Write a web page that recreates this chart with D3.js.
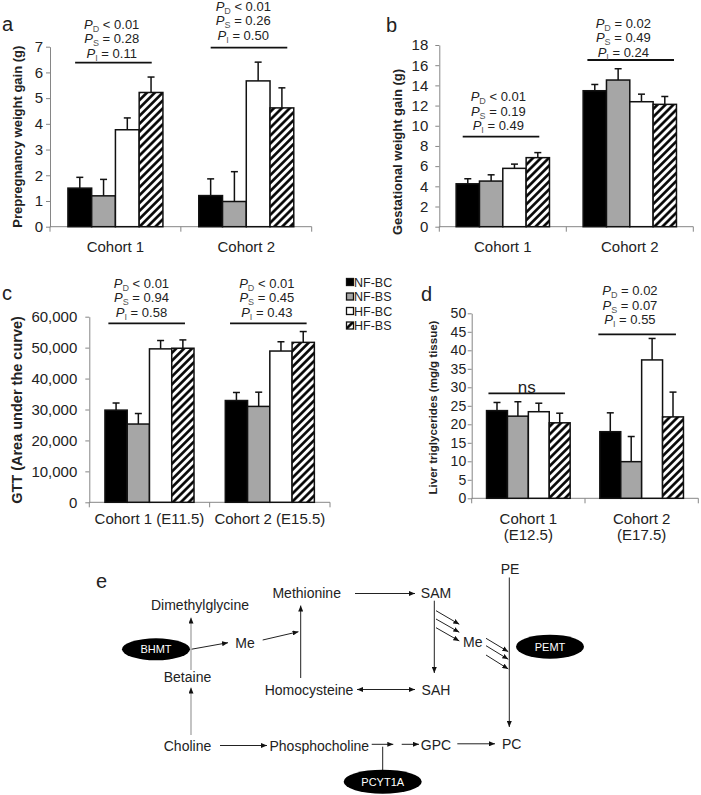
<!DOCTYPE html>
<html><head><meta charset="utf-8">
<script src="https://cdn.jsdelivr.net/npm/d3@7"></script>
<style>
body{margin:0;background:#fff}
svg{display:block}
text{font-family:Arial,"Liberation Sans",Helvetica,sans-serif;fill:#222}
</style>
</head><body>
<svg id="fig" width="701" height="795"></svg>
<script>
// ---------- DATA ----------
const groups = ["NF-BC", "NF-BS", "HF-BC", "HF-BS"];

const catsA = [["Cohort 1"], ["Cohort 2"]];
const meansA = [[1.50, 1.20, 3.77, 5.22], [1.21, 0.98, 5.67, 4.62]];
const errsA  = [[0.42, 0.64, 0.46, 0.60], [0.65, 1.16, 0.73, 0.78]];
const ticksA = [0, 1, 2, 3, 4, 5, 6, 7];
const statsA = [
  [["D", "< 0.01"], ["S", "= 0.28"], ["I", "= 0.11"]],
  [["D", "< 0.01"], ["S", "= 0.26"], ["I", "= 0.50"]]
];

const catsB = [["Cohort 1"], ["Cohort 2"]];
const meansB = [[4.25, 4.52, 5.78, 6.84], [13.47, 14.53, 12.38, 12.12]];
const errsB  = [[0.50, 0.62, 0.42, 0.50], [0.62, 1.12, 0.75, 0.78]];
const ticksB = [0, 2, 4, 6, 8, 10, 12, 14, 16, 18];
const statsB = [
  [["D", "< 0.01"], ["S", "= 0.19"], ["I", "= 0.49"]],
  [["D", "= 0.02"], ["S", "= 0.49"], ["I", "= 0.24"]]
];

const catsC = [["Cohort 1 (E11.5)"], ["Cohort 2 (E15.5)"]];
const meansC = [[29800, 25300, 49600, 49800], [32900, 31000, 48900, 51700]];
const errsC  = [[2300, 3400, 2700, 2700], [2600, 4600, 3000, 3500]];
const ticksC = [0, 10000, 20000, 30000, 40000, 50000, 60000];
const statsC = [
  [["D", "< 0.01"], ["S", "= 0.94"], ["I", "= 0.58"]],
  [["D", "< 0.01"], ["S", "= 0.45"], ["I", "= 0.43"]]
];

const catsD = [["Cohort 1", "(E12.5)"], ["Cohort 2", "(E17.5)"]];
const meansD = [[23.7, 22.2, 23.4, 20.4], [18.0, 9.9, 37.4, 22.0]];
const errsD  = [[2.2, 3.9, 2.3, 2.6], [5.1, 6.8, 5.8, 6.7]];
const ticksD = [0, 5, 10, 15, 20, 25, 30, 35, 40, 45, 50];
const statsD = [
  "ns",
  [["D", "= 0.02"], ["S", "= 0.07"], ["I", "= 0.55"]]
];

// ---------- STYLE / LAYOUT ----------
const svg = d3.select("#fig");
const defs = svg.append("defs");
const pat = defs.append("pattern").attr("id", "hatch")
  .attr("patternUnits", "userSpaceOnUse").attr("width", 5.6).attr("height", 5.6)
  .attr("patternTransform", "rotate(45)");
pat.append("rect").attr("width", 5.6).attr("height", 5.6).attr("fill", "#fff");
pat.append("line").attr("x1", 1.4).attr("y1", 0).attr("x2", 1.4).attr("y2", 5.6)
  .attr("stroke", "#000").attr("stroke-width", 2.6);

const fills = {"NF-BC": "#000", "NF-BS": "#a6a6a6", "HF-BC": "#fff", "HF-BS": "url(#hatch)"};
const axisColor = "#868686";

const panels = [
  {letter: "a", lx: 2, ly: 31, cats: catsA, means: meansA, errs: errsA, ticks: ticksA, fmt: d3.format("d"),
   x0: 50, x1: 311.7, yb: 226.7, yt: 46.7, frac: 0.726, pad: 3, tickFont: 15,
   title: "Prepregnancy weight gain (g)", tx: 17.5, ty: 136.7, tfont: 13, catY: [251.5],
   stats: statsA, ann: [{top: 24, line: 62.7, tdx: -3.7, ldx: -2, half: 38.3}, {top: 6, line: 47.7, tdx: -3, ldx: 2.7, half: 38.3}]},
  {letter: "b", lx: 386, ly: 31.5, cats: catsB, means: meansB, errs: errsB, ticks: ticksB, fmt: d3.format("d"),
   x0: 439.3, x1: 693.3, yb: 226.7, yt: 45, frac: 0.735, pad: 7, tickFont: 15,
   title: "Gestational weight gain (g)", tx: 397, ty: 152, tfont: 13, catY: [251.5],
   stats: statsB, ann: [{top: 96.7, line: 136.7, tdx: -4.5, ldx: -1.8, half: 38.3}, {top: 23.3, line: 60, tdx: -6.5, ldx: 0.9, half: 43.3}]},
  {letter: "c", lx: 2, ly: 300, cats: catsC, means: meansC, errs: errsC, ticks: ticksC, fmt: d3.format(","),
   x0: 89.3, x1: 330, yb: 502.3, yt: 316.7, frac: 0.74, pad: 8, tickFont: 15,
   title: "GTT (Area under the curve)", tx: 17, ty: 410, tfont: 14.5, catY: [523.5],
   stats: statsC, ann: [{top: 283.3, line: 323.3, tdx: -8, ldx: -2.8, half: 38.3}, {top: 283.3, line: 323.3, tdx: -3, ldx: -1.5, half: 38.3}]},
  {letter: "d", lx: 421, ly: 301, cats: catsD, means: meansD, errs: errsD, ticks: ticksD, fmt: d3.format("d"),
   x0: 471.7, x1: 698.3, yb: 498.3, yt: 313.3, frac: 0.738, pad: 1.5, tickFont: 14,
   title: "Liver triglycerides (mg/g tissue)", tx: 433, ty: 407.5, tfont: 11.5, catY: [524, 540],
   stats: statsD, ann: [{top: 387.3, line: 393.3, tdx: -1.6, ldx: -1.6, half: 38.3}, {top: 290.7, line: 334.3, tdx: -11.7, ldx: -4.5, half: 38.8}]}
];

function drawPanel(p) {
  const g = svg.append("g");
  const maxV = p.ticks[p.ticks.length - 1];
  const y = d3.scaleLinear().domain([0, maxV]).range([p.yb, p.yt]);
  const x = d3.scaleBand().domain(d3.range(p.cats.length)).range([p.x0, p.x1]).padding(0);
  const bw = x.bandwidth();
  const inner = d3.scaleBand().domain(groups).range([bw * (1 - p.frac) / 2, bw * (1 + p.frac) / 2]).padding(0);

  // y axis
  const ay = g.append("g").attr("transform", `translate(${p.x0},0)`)
    .call(d3.axisLeft(y).tickValues(p.ticks).tickFormat(p.fmt).tickSize(4).tickSizeOuter(0).tickPadding(p.pad));
  ay.select(".domain").attr("stroke", axisColor);
  ay.selectAll(".tick line").attr("stroke", axisColor);
  ay.selectAll(".tick text").attr("font-size", p.tickFont).attr("font-family", "Arial, 'Liberation Sans', sans-serif").attr("fill", "#222");

  // x axis line + ticks at band boundaries
  g.append("line").attr("x1", p.x0).attr("x2", p.x1).attr("y1", p.yb).attr("y2", p.yb).attr("stroke", axisColor);
  const bounds = x.domain().map(d => x(d)).concat([x(x.domain()[x.domain().length - 1]) + bw]);
  g.selectAll(".xt").data(bounds).enter().append("line")
    .attr("x1", d => d).attr("x2", d => d).attr("y1", p.yb).attr("y2", p.yb + 5).attr("stroke", axisColor);

  // category labels
  p.cats.forEach((lines, i) => {
    lines.forEach((t, j) => {
      g.append("text").attr("x", x(i) + bw / 2).attr("y", p.catY[j]).attr("text-anchor", "middle")
        .attr("font-size", 15).text(t);
    });
  });

  // bars
  p.means.forEach((row, i) => {
    row.forEach((v, k) => {
      const gname = groups[k];
      const bx = x(i) + inner(gname);
      const bwid = inner.bandwidth();
      const e = p.errs[i][k];
      g.append("line").attr("x1", bx + bwid / 2).attr("x2", bx + bwid / 2)
        .attr("y1", y(v)).attr("y2", y(v + e)).attr("stroke", "#111").attr("stroke-width", 1.5);
      g.append("line").attr("x1", bx + bwid / 2 - 3.5).attr("x2", bx + bwid / 2 + 3.5)
        .attr("y1", y(v + e)).attr("y2", y(v + e)).attr("stroke", "#111").attr("stroke-width", 1.5);
      g.append("rect").attr("x", bx).attr("y", y(v)).attr("width", bwid).attr("height", y(0) - y(v))
        .attr("fill", fills[gname]).attr("stroke", "#111").attr("stroke-width", 1.5);
    });
  });

  // annotations
  p.stats.forEach((s, i) => {
    const a = p.ann[i];
    const cx = x(i) + bw / 2;
    g.append("line").attr("x1", cx + a.ldx - a.half).attr("x2", cx + a.ldx + a.half)
      .attr("y1", a.line).attr("y2", a.line).attr("stroke", "#111").attr("stroke-width", 1.8);
    if (typeof s === "string") {
      g.append("text").attr("x", cx + a.tdx).attr("y", a.top + 6).attr("text-anchor", "middle")
        .attr("font-size", 17).text(s);
    } else {
      s.forEach((r, j) => {
        const t = g.append("text").attr("x", cx + a.tdx).attr("y", a.top + j * 14.5 + 4.6)
          .attr("text-anchor", "middle").attr("font-size", 13);
        t.append("tspan").attr("font-style", "italic").text("P");
        t.append("tspan").attr("font-size", 9).attr("dy", 3).attr("fill", "#555").text(r[0]);
        t.append("tspan").attr("dy", -3).text("\u00a0" + r[1]);
      });
    }
  });

  // title
  g.append("text").attr("transform", `translate(${p.tx},${p.ty}) rotate(-90)`)
    .attr("text-anchor", "middle").attr("dominant-baseline", "central")
    .attr("font-weight", "bold").attr("font-size", p.tfont).text(p.title);
  // letter
  g.append("text").attr("x", p.lx).attr("y", p.ly).attr("font-size", 20).text(p.letter);
}
panels.forEach(drawPanel);

// legend
const leg = svg.append("g");
groups.forEach((gname, i) => {
  const cy = 282 + i * 14.5;
  leg.append("rect").attr("x", 346.5).attr("y", cy - 3.5).attr("width", 7).attr("height", 7)
    .attr("fill", fills[gname]).attr("stroke", "#111").attr("stroke-width", 1.3);
  leg.append("text").attr("x", 354).attr("y", cy + 4.5).attr("font-size", 12.5).text(gname);
});

// ---------- panel e : pathway diagram ----------
const eNodes = [
  {t: "Dimethylglycine", x: 200, y: 605},
  {t: "Methionine", x: 306.7, y: 593.3},
  {t: "SAM", x: 436, y: 593.3},
  {t: "PE", x: 510, y: 568.5},
  {t: "Me", x: 245, y: 643.3},
  {t: "Me", x: 472.7, y: 641.7},
  {t: "Betaine", x: 187.5, y: 676.7},
  {t: "Homocysteine", x: 309, y: 690},
  {t: "SAH", x: 436, y: 690},
  {t: "Choline", x: 187.5, y: 745.7},
  {t: "Phosphocholine", x: 319.3, y: 745.7},
  {t: "GPC", x: 436, y: 744.5},
  {t: "PC", x: 511.7, y: 744}
];
const eEnzymes = [
  {t: "BHMT", x: 156, y: 649.3, rx: 34, ry: 11},
  {t: "PCYT1A", x: 382.7, y: 781.7, rx: 39, ry: 12},
  {t: "PEMT", x: 550, y: 646.7, rx: 34, ry: 12}
];
// [x1,y1,x2,y2,headEnd,headStart,gray]
const eLinks = [
  [355, 593.5, 415, 593.5, 1, 0, 0],
  [357, 689.5, 415, 689.5, 1, 1, 0],
  [300.7, 678, 300.7, 605.5, 1, 0, 0],
  [191, 649.3, 228, 642.7, 1, 0, 0],
  [262.7, 640, 298.5, 631.7, 1, 0, 0],
  [191, 670, 191, 617.5, 1, 0, 1],
  [191, 735, 191, 687.5, 1, 0, 1],
  [220, 745.5, 267, 745.5, 1, 0, 0],
  [371.7, 744.3, 393.3, 744.3, 1, 0, 0],
  [401.7, 744.3, 419, 744.3, 1, 0, 0],
  [382.7, 746.7, 382.7, 771, 0, 0, 0],
  [457.3, 743.8, 495, 743.8, 1, 0, 0],
  [434.3, 600.7, 434.3, 673, 1, 0, 0],
  [436, 610.7, 459.3, 624.3, 1, 0, 0],
  [436, 619, 459.3, 632.3, 1, 0, 0],
  [436, 627.7, 459.3, 641, 1, 0, 0],
  [486, 638.3, 508.3, 651.7, 1, 0, 0],
  [486, 645.7, 508.3, 659.3, 1, 0, 0],
  [486, 655, 508.3, 669, 1, 0, 0],
  [509.3, 577.5, 509.3, 727, 1, 0, 0]
];

defs.append("marker").attr("id", "ah").attr("markerUnits", "userSpaceOnUse")
  .attr("markerWidth", 6).attr("markerHeight", 5).attr("refX", 6).attr("refY", 2.5)
  .attr("orient", "auto-start-reverse")
  .append("path").attr("d", "M0,0 L6,2.5 L0,5 z").attr("fill", "#111");

const eg = svg.append("g");
eLinks.forEach(l => {
  const ln = eg.append("line").attr("x1", l[0]).attr("y1", l[1]).attr("x2", l[2]).attr("y2", l[3])
    .attr("stroke", l[6] ? "#b5b5b5" : "#222").attr("stroke-width", l[6] ? 1.6 : 1);
  if (l[4]) ln.attr("marker-end", "url(#ah)");
  if (l[5]) ln.attr("marker-start", "url(#ah)");
});
eNodes.forEach(n => {
  eg.append("text").attr("x", n.x).attr("y", n.y).attr("text-anchor", "middle")
    .attr("dominant-baseline", "central").attr("font-size", 14).text(n.t);
});
eEnzymes.forEach(n => {
  eg.append("ellipse").attr("cx", n.x).attr("cy", n.y).attr("rx", n.rx).attr("ry", n.ry).attr("fill", "#000");
  eg.append("text").attr("x", n.x).attr("y", n.y).attr("text-anchor", "middle")
    .attr("dominant-baseline", "central").attr("font-size", 11).style("fill", "#fff").text(n.t);
});
eg.append("text").attr("x", 96).attr("y", 588).attr("font-size", 20).text("e");
</script>
</body></html>
